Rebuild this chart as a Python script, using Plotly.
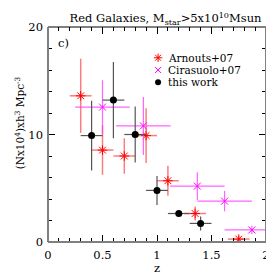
import plotly.graph_objects as go

# Arnouts+07
arn_z = [0.3, 0.5, 0.7, 0.9, 1.1, 1.35, 1.75]
arn_n = [13.6, 8.55, 8.0, 9.9, 5.7, 2.65, 0.27]
arn_dz = [0.1, 0.1, 0.1, 0.1, 0.1, 0.1, 0.1]
arn_dn = [3.45, 2.3, 1.65, 2.55, 1.4, 0.65, 0.3]

# Cirasuolo+07
cir_z = [0.5, 0.875, 1.37, 1.62, 1.87]
cir_n = [12.55, 10.8, 5.2, 3.8, 1.12]
cir_dz = [0.25, 0.25, 0.25, 0.25, 0.25]
cir_dn = [2.5, 2.7, 1.3, 0.95, 0.4]

# this work
tw_z = [0.4, 0.6, 0.8, 1.0, 1.2, 1.4]
tw_n = [9.9, 13.2, 10.0, 4.8, 2.65, 1.73]
tw_dz = [0.1, 0.1, 0.1, 0.1, 0.1, 0.1]
tw_dn = [3.25, 3.55, 2.6, 1.35, 0.15, 0.65]

x_ticks = [0, 0.5, 1, 1.5, 2]
x_ticktext = ["0", "0.5", "1", "1.5", "2"]
y_ticks = [0, 10, 20]
y_ticktext = ["0", "10", "20"]

legend_names = ["Arnouts+07", "Cirasuolo+07", "this work"]

FONT = "DejaVu Serif"

styles = [
    dict(symbol="asterisk-open", size=8, color="red", line=dict(color="red", width=1)),
    dict(symbol="x-thin-open", size=7, color="magenta", line=dict(color="magenta", width=1)),
    dict(symbol="circle", size=7, color="black", line=dict(width=0)),
]
legend_styles = [
    dict(symbol="asterisk-open", size=7, color="red", line=dict(color="red", width=1)),
    dict(symbol="x-thin-open", size=6, color="magenta", line=dict(color="magenta", width=1)),
    dict(symbol="circle", size=6, color="black", line=dict(width=0)),
]

fig = go.Figure()
fig.add_trace(go.Scatter(
    x=arn_z, y=arn_n, mode="markers", name=legend_names[0], marker=styles[0],
    error_x=dict(type="data", array=arn_dz, color="rgba(255,80,80,0.75)", thickness=1.5, width=0),
    error_y=dict(type="data", array=arn_dn, color="rgba(255,80,80,0.75)", thickness=1.5, width=0),
))
fig.add_trace(go.Scatter(
    x=cir_z, y=cir_n, mode="markers", name=legend_names[1], marker=styles[1],
    error_x=dict(type="data", array=cir_dz, color="rgba(255,60,255,0.8)", thickness=1.2, width=0),
    error_y=dict(type="data", array=cir_dn, color="rgba(255,60,255,0.8)", thickness=1.2, width=0),
))
fig.add_trace(go.Scatter(
    x=tw_z, y=tw_n, mode="markers", name=legend_names[2], marker=styles[2],
    error_x=dict(type="data", array=tw_dz, color="#555555", thickness=1.2, width=0),
    error_y=dict(type="data", array=tw_dn, color="#555555", thickness=1.2, width=0),
))

# manual legend keys on a hidden overlay axis (fractions of the plot area)
leg_x = 0.505
leg_y = [0.857, 0.800, 0.743]
for name, st, ly in zip(legend_names, legend_styles, leg_y):
    fig.add_trace(go.Scatter(x=[leg_x], y=[ly], mode="markers", marker=st,
                             xaxis="x2", yaxis="y2", showlegend=False, hoverinfo="skip"))
    fig.add_annotation(text=name, xref="x2", yref="y2", x=0.548, y=ly, showarrow=False,
                       xanchor="left", yanchor="middle", borderpad=0,
                       font=dict(family=FONT, size=10.5, color="black"))

axcommon = dict(showgrid=False, zeroline=False, showline=False, ticks="inside",
                tickcolor="black", tickwidth=1, mirror="allticks",
                tickfont=dict(family=FONT, size=11.5, color="black"))

xaxis = dict(range=[0, 2], ticklen=7,
             minor=dict(dtick=0.1, tick0=0, ticklen=4, ticks="inside", tickcolor="black"),
             tickmode="array", tickvals=x_ticks, ticktext=x_ticktext,
             ticklabelstandoff=4,
             title=dict(text="z", font=dict(family=FONT, size=11.5, color="black"), standoff=0),
             **axcommon)
yaxis = dict(range=[0, 20], tickmode="array", tickvals=y_ticks, ticktext=y_ticktext, ticklen=7,
             minor=dict(dtick=2, tick0=0, ticklen=4, ticks="inside", tickcolor="black"),
             ticklabelstandoff=4,
             **axcommon)

# y-axis label
fig.add_annotation(text="(Nx10<sup>4</sup>)xh<sup>3</sup> Mpc<sup>-3</sup>", textangle=-90,
                   xref="paper", yref="paper", x=-0.13, y=0.555, showarrow=False,
                   xanchor="center", yanchor="middle",
                   font=dict(family=FONT, size=10.5, color="black"))

# frame
fig.add_shape(type="line", xref="paper", yref="paper", x0=0, x1=1, y0=1, y1=1, line=dict(color="black", width=1))
fig.add_shape(type="line", xref="paper", yref="paper", x0=0, x1=0, y0=0, y1=1, line=dict(color="#808080", width=2))
fig.add_shape(type="line", xref="paper", yref="paper", x0=1, x1=1, y0=0, y1=1, line=dict(color="#808080", width=2))
fig.add_shape(type="line", xref="paper", yref="paper", x0=0, x1=1, y0=0, y1=0, line=dict(color="#808080", width=2))

fig.add_annotation(text="c)", xref="paper", yref="paper", x=0.035, y=0.925, showarrow=False,
                   xanchor="left", yanchor="middle", font=dict(family=FONT, size=11.5, color="black"))

fig.update_layout(
    width=274, height=274,
    margin=dict(l=40, r=15, t=19, b=35),
    paper_bgcolor="white", plot_bgcolor="white",
    xaxis=xaxis, yaxis=yaxis,
    xaxis2=dict(overlaying="x", range=[0, 1], visible=False),
    yaxis2=dict(overlaying="y", range=[0, 1], visible=False),
    title=dict(text="Red Galaxies, M<sub>star</sub>>5x10<sup>10</sup>Msun",
               font=dict(family=FONT, size=11.5, color="black"),
               x=0.575, xanchor="center", y=0.962, yanchor="middle"),
    showlegend=False,
)
fig.write_html("out.html")
